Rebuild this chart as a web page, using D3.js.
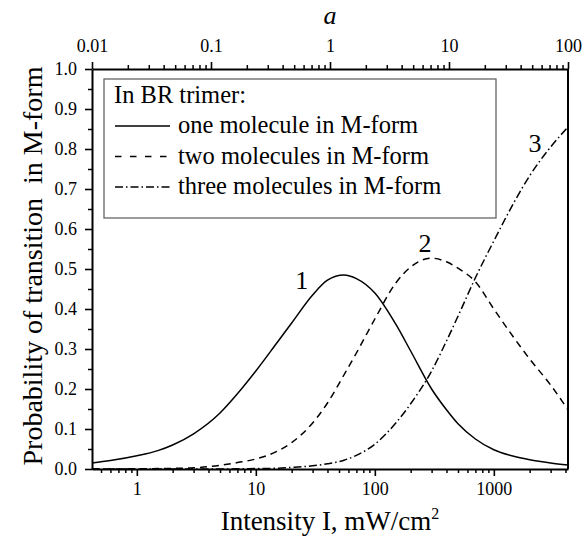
<!DOCTYPE html>
<html><head><meta charset="utf-8">
<script src="https://cdn.jsdelivr.net/npm/d3@7"></script>
<style>body{margin:0;background:#fff}svg{display:block}</style>
</head><body><svg id="c" width="584" height="540"></svg>
<script>
// Data
const intensity = [0.42,0.6,1,1.5,2,3,5,7,10,15,20,30,40,55,70,100,150,200,300,400,500,700,1000,1500,2000,3000,4200];
const oneMolecule   = [0.015,0.021,0.033,0.046,0.06,0.088,0.14,0.188,0.245,0.315,0.365,0.435,0.472,0.485,0.476,0.44,0.362,0.295,0.2,0.148,0.113,0.075,0.048,0.031,0.023,0.015,0.01];
const twoMolecules  = [0,0,0.0005,0.001,0.0015,0.003,0.009,0.016,0.025,0.044,0.066,0.115,0.165,0.235,0.29,0.375,0.465,0.505,0.527,0.518,0.502,0.468,0.40,0.325,0.275,0.21,0.148];
const threeMolecules= [0,0,0,0,0,0,0,0.0005,0.001,0.002,0.004,0.008,0.013,0.022,0.034,0.062,0.115,0.163,0.245,0.32,0.382,0.478,0.57,0.67,0.733,0.805,0.855];
const seriesNames = ["one molecule in M-form","two molecules in M-form","three molecules in M-form"];
const curveLabels = ["1","2","3"];
const curveLabelI = [24.3,264,2218];
const curveLabelP = [0.45,0.5425,0.7925];
const yTicks = [0,0.1,0.2,0.3,0.4,0.5,0.6,0.7,0.8,0.9,1.0];
const bottomTicks = [1,10,100,1000];
const topTicks = [0.01,0.1,1,10,100];

const svg = d3.select("#c");
const L=92,R=568,T=69,B=469;
const x = d3.scaleLog().domain([0.42,4200]).range([L,R]);
const xa = d3.scaleLog().domain([0.01,100]).range([L,R]);
const y = d3.scaleLinear().domain([0,1]).range([B,T]);
const FONT = '"Liberation Serif", "Times New Roman", serif';

function minors(scale){
  const [a,b]=scale.domain(); const out=[];
  for(let e=Math.floor(Math.log10(a)); e<=Math.ceil(Math.log10(b)); e++){
    for(let m=2;m<=9;m++){const v=m*Math.pow(10,e); if(v>=a*0.999&&v<=b*1.001) out.push(v);}
  }
  return out;
}
const fmtNum = d=> d>=1? String(d): String(+d.toFixed(2));

// curves
const dashes = [null,"7,5","8,3,1.5,3"];
const legendDashes = [null,"6.5,8.5","8,3,1.5,3"];
const data = [oneMolecule,twoMolecules,threeMolecules];
const line = d3.line().x(d=>x(d[0])).y(d=>y(d[1])).curve(d3.curveMonotoneX);
data.forEach((s,i)=>{
  svg.append("path").datum(intensity.map((v,j)=>[v,s[j]]))
    .attr("d",line).attr("fill","none").attr("stroke","#000").attr("stroke-width",1.5)
    .attr("stroke-dasharray",dashes[i]);
});

function styleAxis(s){
  s.select(".domain").attr("stroke-width",2);
  s.selectAll(".tick line").attr("stroke-width",1.6);
  s.selectAll("text").style("font-family",FONT).style("font-size","18px").attr("fill","#000");
}
function minorAxis(s){ s.select(".domain").remove(); s.selectAll("line").attr("stroke-width",1.5); }
// left
svg.append("g").attr("transform",`translate(${L},0)`)
  .call(d3.axisLeft(y).tickValues(yTicks).tickFormat(d3.format(".1f")).tickSize(7).tickPadding(8).tickSizeOuter(0))
  .call(styleAxis);
svg.append("g").attr("transform",`translate(${L},0)`)
  .call(d3.axisLeft(y).tickValues(d3.range(0.05,1,0.1)).tickFormat("").tickSize(4).tickSizeOuter(0)).call(minorAxis);
// bottom
svg.append("g").attr("transform",`translate(0,${B})`)
  .call(d3.axisBottom(x).tickValues(bottomTicks).tickFormat(fmtNum).tickSize(7).tickPadding(6).tickSizeOuter(0))
  .call(styleAxis);
svg.append("g").attr("transform",`translate(0,${B})`)
  .call(d3.axisBottom(x).tickValues(minors(x)).tickFormat("").tickSize(4).tickSizeOuter(0)).call(minorAxis);
// top
svg.append("g").attr("transform",`translate(0,${T})`)
  .call(d3.axisTop(xa).tickValues(topTicks).tickFormat(fmtNum).tickSize(7).tickPadding(10).tickSizeOuter(0))
  .call(styleAxis);
svg.append("g").attr("transform",`translate(0,${T})`)
  .call(d3.axisTop(xa).tickValues(minors(xa)).tickFormat("").tickSize(4).tickSizeOuter(0)).call(minorAxis);
// right
svg.append("line").attr("x1",R).attr("x2",R).attr("y1",T).attr("y2",B).attr("stroke","#000").attr("stroke-width",2);

// titles
svg.append("text").attr("x",330).attr("y",24).attr("text-anchor","middle")
  .style("font-family",FONT).style("font-size","26px").style("font-style","italic").text("a");
const xt2 = svg.append("text").attr("x",330).attr("y",530).attr("text-anchor","middle")
  .style("font-family",FONT).style("font-size","27px");
xt2.append("tspan").text("Intensity I, mW/cm");
xt2.append("tspan").attr("dy",-11).style("font-size","16px").text("2");
svg.append("text").attr("transform",`translate(42,${(T+B)/2 - 3}) rotate(-90)`).attr("text-anchor","middle")
  .style("font-family",FONT).style("font-size","28px").style("white-space","pre")
  .text("Probability of transition  in M-form");

// curve labels
curveLabels.forEach((t,i)=>{
  svg.append("text").attr("x",x(curveLabelI[i])).attr("y",y(curveLabelP[i]))
   .attr("text-anchor","middle").style("font-family",FONT).style("font-size","26px").text(t);
});

// legend
const lg = svg.append("g");
lg.append("rect").attr("x",104).attr("y",79).attr("width",392).attr("height",139)
  .attr("fill","#fff").attr("stroke","#666").attr("stroke-width",1.3);
lg.append("text").attr("x",114).attr("y",102.5).style("font-family",FONT).style("font-size","24.5px").text("In BR trimer:");
seriesNames.forEach((n,i)=>{
  const yy = 133 + i*30.5;
  lg.append("line").attr("x1",115).attr("x2",170).attr("y1",yy-7).attr("y2",yy-7)
    .attr("stroke","#000").attr("stroke-width",1.5).attr("stroke-dasharray",legendDashes[i]);
  lg.append("text").attr("x",178).attr("y",yy).style("font-family",FONT).style("font-size","24.5px").text(n);
});
</script></body></html>
